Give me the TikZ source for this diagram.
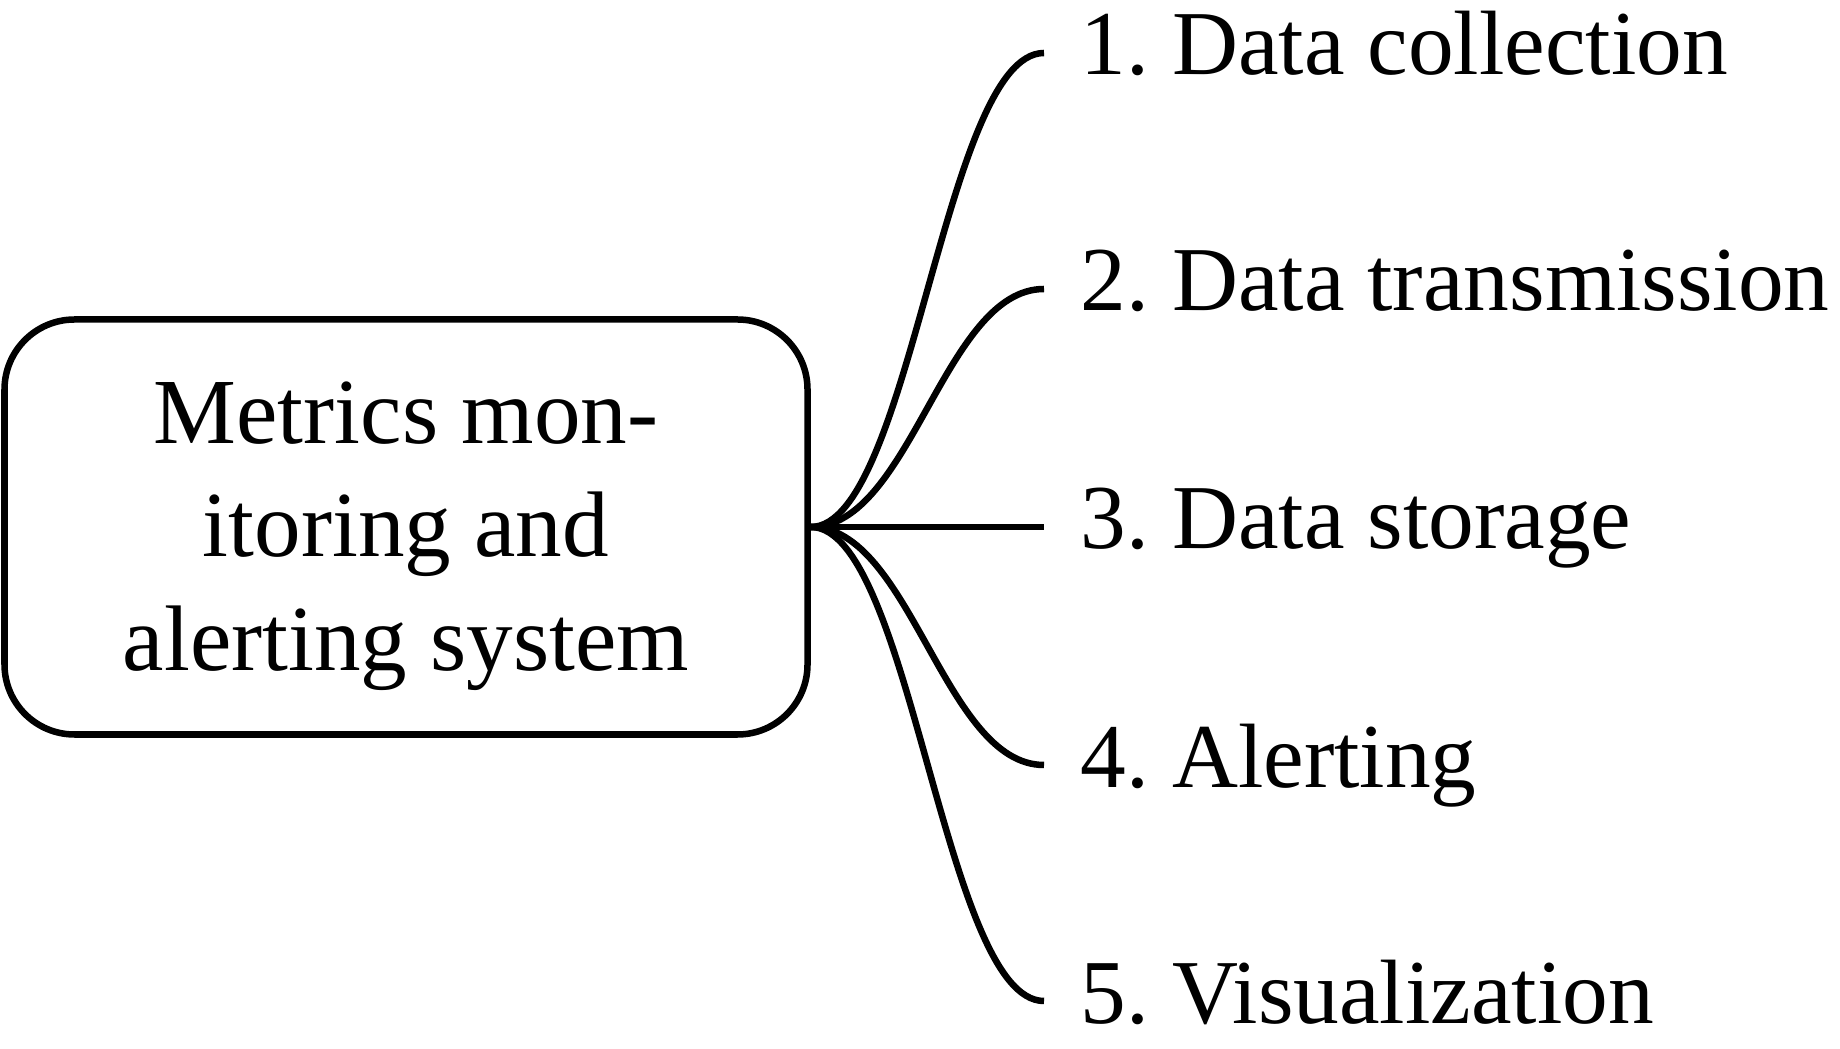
\documentclass[tikz,border=0pt]{standalone}
\usepackage{fontspec}
\setmainfont{Liberation Serif}
\usetikzlibrary{positioning}
\frenchspacing

\begin{document}
\begin{tikzpicture}[
  root/.style={draw,line width=1.85pt,rounded corners=7mm,align=center,
               minimum width=80.3mm,minimum height=41.5mm,
               font=\fontsize{26.5}{32.4}\selectfont},
  leaf/.style={anchor=west,inner xsep=3.6mm,inner ysep=0pt,
               text height=6.2mm,text depth=1.8mm,
               font=\fontsize{26}{31.6}\selectfont},
  branch/.style={line width=1.85pt}]
\useasboundingbox (0,0) rectangle (18.4,10.48);
\node[root] (sys) at (4.06,5.21)
  {\rule{0pt}{8mm}Metrics mon-\\itoring and\\alerting system};
\node[leaf] (c1) at (10.44,9.95) {1. Data collection};
\node[leaf] (c2) at (10.44,7.59) {2. Data transmission};
\node[leaf] (c3) at (10.44,5.21) {3. Data storage};
\node[leaf] (c4) at (10.44,2.83) {4. Alerting};
\node[leaf] (c5) at (10.44,0.47) {5. Visualization};
\draw[branch] (sys.east) .. controls +(1.0,0) and +(-1.0,0) .. (c1.west);
\draw[branch] (sys.east) .. controls +(1.0,0) and +(-1.0,0) .. (c2.west);
\draw[branch] (sys.east) -- (c3.west);
\draw[branch] (sys.east) .. controls +(1.0,0) and +(-1.0,0) .. (c4.west);
\draw[branch] (sys.east) .. controls +(1.0,0) and +(-1.0,0) .. (c5.west);
\end{tikzpicture}
\end{document}
